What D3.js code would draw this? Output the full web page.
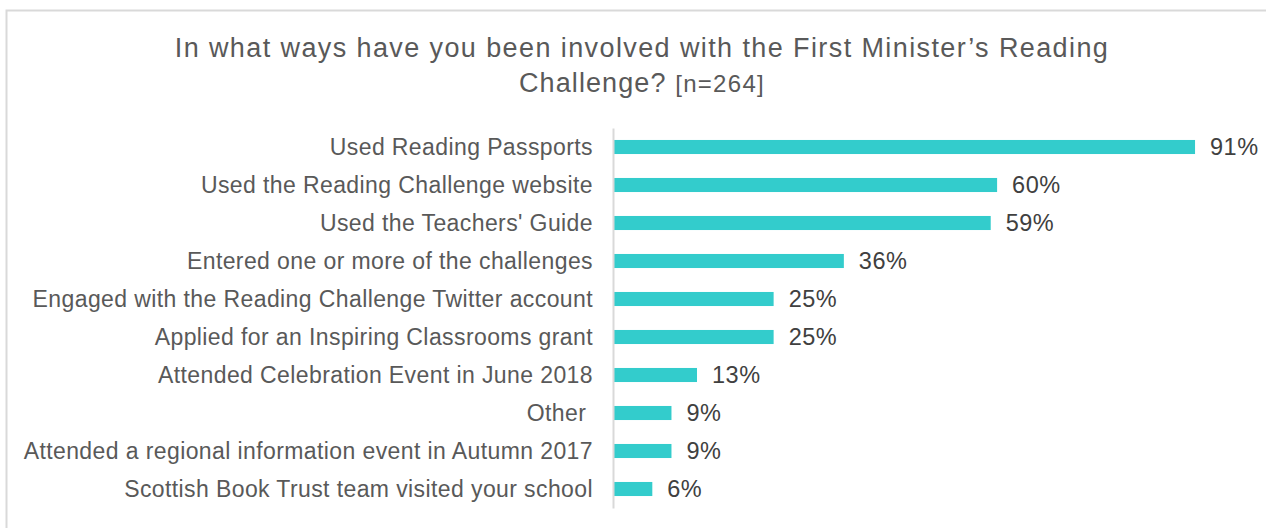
<!DOCTYPE html>
<html><head><meta charset="utf-8">
<script src="https://cdn.jsdelivr.net/npm/d3@7"></script>
<style>body{margin:0;background:#fff;}svg{display:block;font-family:"Liberation Sans",Arial,sans-serif;}.tick text{white-space:pre;}</style>
</head><body>
<svg id="c" width="1266" height="528"></svg>
<script>
const categories = [
  "Used Reading Passports",
  "Used the Reading Challenge website",
  "Used the Teachers' Guide",
  "Entered one or more of the challenges",
  "Engaged with the Reading Challenge Twitter account",
  "Applied for an Inspiring Classrooms grant",
  "Attended Celebration Event in June 2018",
  "Other ",
  "Attended a regional information event in Autumn 2017",
  "Scottish Book Trust team visited your school"
];
const values = [91, 60, 59, 36, 25, 25, 13, 9, 9, 6];
const titleLine1 = "In what ways have you been involved with the First Minister\u2019s Reading";
const titleLine2 = "Challenge?";
const titleNote = "[n=264]";

const svg = d3.select("#c");
svg.append("rect").attr("x",6.5).attr("y",10.5).attr("width",1280).attr("height",540)
  .attr("fill","#fff").attr("stroke","#d9d9d9").attr("stroke-width",2);

const t = svg.append("text").attr("text-anchor","middle").attr("fill","#595959");
t.append("tspan").attr("x",642).attr("y",57).attr("font-size",27).attr("letter-spacing",1.4).text(titleLine1);
const t2 = t.append("tspan").attr("x",642).attr("y",92);
t2.append("tspan").attr("font-size",27).attr("letter-spacing",1.1).text(titleLine2 + " ");
t2.append("tspan").attr("font-size",24).attr("letter-spacing",1.3).text(titleNote);

const x = d3.scaleLinear().domain([0,100]).range([614, 614+638.5]);
const y = d3.scaleBand().domain(categories).range([128,508]).paddingInner(0.63).paddingOuter(0.315);

svg.selectAll("rect.bar").data(values).join("rect").attr("class","bar")
  .attr("x", x(0)).attr("y",(d,i)=>y(categories[i]))
  .attr("width", d=>x(d)-x(0)).attr("height", y.bandwidth())
  .attr("fill","#33cccc");

const axis = d3.axisLeft(y).tickSize(0).tickPadding(20);
const g = svg.append("g").attr("transform",`translate(${x(0)-1},0)`).call(axis);
g.select(".domain").attr("stroke","#d9d9d9").attr("stroke-width",2);
g.selectAll(".tick text").attr("font-size",23).attr("fill","#595959").attr("letter-spacing",0.4)
  .attr("font-family","'Liberation Sans',Arial,sans-serif").attr("dy","0.36em");

svg.selectAll("text.val").data(values).join("text").attr("class","val")
  .attr("x", d=>x(d)+15).attr("y",(d,i)=>y(categories[i])+y.bandwidth()/2)
  .attr("dy","0.36em").attr("font-size",23.5).attr("letter-spacing",0.5).attr("fill","#404040")
  .text(d=>d+"%");
</script>
</body></html>
